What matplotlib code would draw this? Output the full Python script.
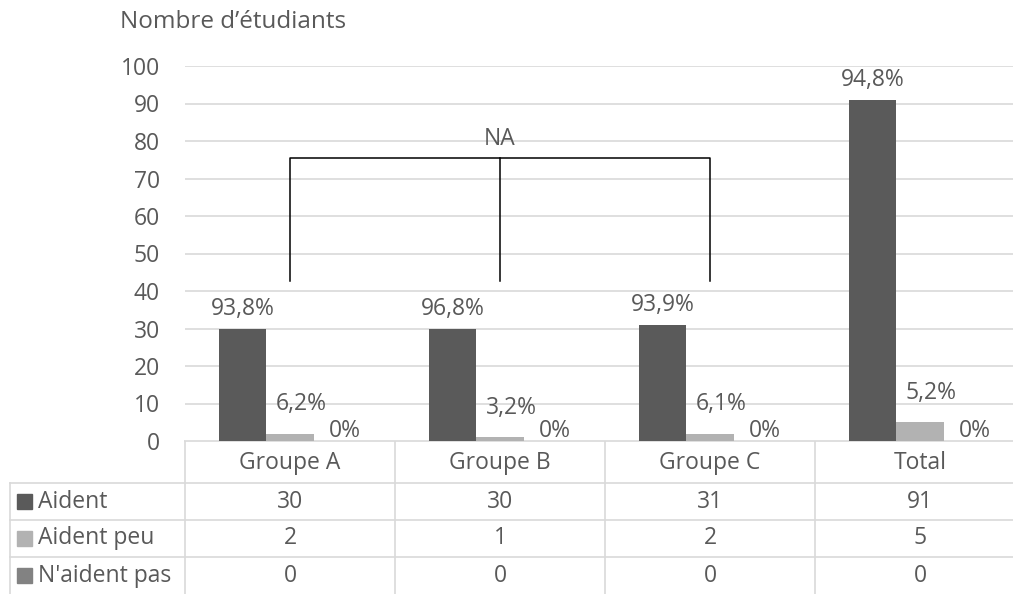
import numpy as np
import matplotlib
matplotlib.use("Agg")
import matplotlib.pyplot as plt
from matplotlib.patches import Rectangle

plt.rcParams['font.family'] = ['Open Sans', 'DejaVu Sans']

groups = ['Groupe A', 'Groupe B', 'Groupe C', 'Total']
series = ['Aident', 'Aident peu', "N'aident pas"]
aident = [30, 30, 31, 91]
aident_peu = [2, 1, 2, 5]
naident_pas = [0, 0, 0, 0]
pct_aident = ['93,8%', '96,8%', '93,9%', '94,8%']
pct_peu = ['6,2%', '3,2%', '6,1%', '5,2%']
pct_pas = ['0%', '0%', '0%', '0%']
yticks = [0, 10, 20, 30, 40, 50, 60, 70, 80, 90, 100]

colors = ['#5a5a5a', '#b2b2b2', '#828282']
txt = '#595959'
grid = '#d9d9d9'
W, H = 1013, 594
fs = 16.5

fig = plt.figure(figsize=(W / 100, H / 100), dpi=100)

# pixel layout (from top-left)
x0, col_w = 185, 210
x1 = x0 + 4 * col_w
y_top, y_zero = 66, 441
row_h = [42, 37, 37, 37]
tab_left = 10

ax = fig.add_axes([x0 / W, 1 - y_zero / H, (x1 - x0) / W, (y_zero - y_top) / H])
ax.set_xlim(-0.5, len(groups) - 0.5)
ax.set_ylim(0, 100)
ax.set_yticks(yticks)
ax.set_xticks([])
for s in ax.spines.values():
    s.set_visible(False)
ax.tick_params(axis='y', length=0, labelsize=fs, labelcolor=txt, pad=18)
ax.yaxis.grid(True, color=grid, lw=1.2)
ax.set_axisbelow(True)

x = np.arange(len(groups))
w = 0.224
data = [aident, aident_peu, naident_pas]
labels = [pct_aident, pct_peu, pct_pas]
xoffs = [0, 8, 6]
yoffs = [14, 21, 7]
for i, (vals, lab) in enumerate(zip(data, labels)):
    pos = x + (i - 1) * w
    ax.bar(pos, vals, w, color=colors[i], zorder=2)
    for p, v, l in zip(pos, vals, lab):
        ax.annotate(l, (p, v), xytext=(xoffs[i], yoffs[i]), textcoords='offset points',
                    ha='center', va='center', fontsize=fs, color=txt,
                    annotation_clip=False)

# bracket between groups
ax.plot([0, 0, 2, 2], [42.7, 75.5, 75.5, 42.7], color='black', lw=1.1, zorder=3)
ax.plot([1, 1], [42.7, 75.5], color='black', lw=1.1, zorder=3)
ax.text(1, 80.5, 'NA', ha='center', va='center', fontsize=fs, color=txt)

fig.text(120 / W, 1 - 22 / H, 'Nombre d\u2019étudiants', ha='left', va='center',
         fontsize=17.5, color=txt)

# data table below the axis
tax = fig.add_axes([0, 0, 1, 1], zorder=-1)
tax.set_xlim(0, W)
tax.set_ylim(H, 0)
tax.axis('off')
edges = np.cumsum([y_zero] + row_h)
tax.plot([x0, x1], [edges[0], edges[0]], color=grid, lw=1.2)
for e in edges[1:-1]:
    tax.plot([tab_left, x1], [e, e], color=grid, lw=1.2)
for k in range(len(groups)):
    xe = x0 + k * col_w
    tax.plot([xe, xe], [edges[0], H], color=grid, lw=1.2)
tax.plot([tab_left, tab_left], [edges[1], H], color=grid, lw=1.2)

for k, g in enumerate(groups):
    cx = x0 + (k + 0.5) * col_w
    tax.text(cx, (edges[0] + edges[1]) / 2 + 1, g, ha='center', va='center',
             fontsize=fs, color=txt)
    for r, vals in enumerate(data):
        tax.text(cx, (edges[r + 1] + edges[r + 2]) / 2, str(vals[k]),
                 ha='center', va='center', fontsize=fs, color=txt)

sq = 15
for r, name in enumerate(series):
    cy = (edges[r + 1] + edges[r + 2]) / 2
    tax.add_patch(Rectangle((17, cy - sq / 2), sq, sq, color=colors[r]))
    tax.text(38, cy, name, ha='left', va='center', fontsize=fs, color=txt)

fig.savefig('out.png', dpi=100)
